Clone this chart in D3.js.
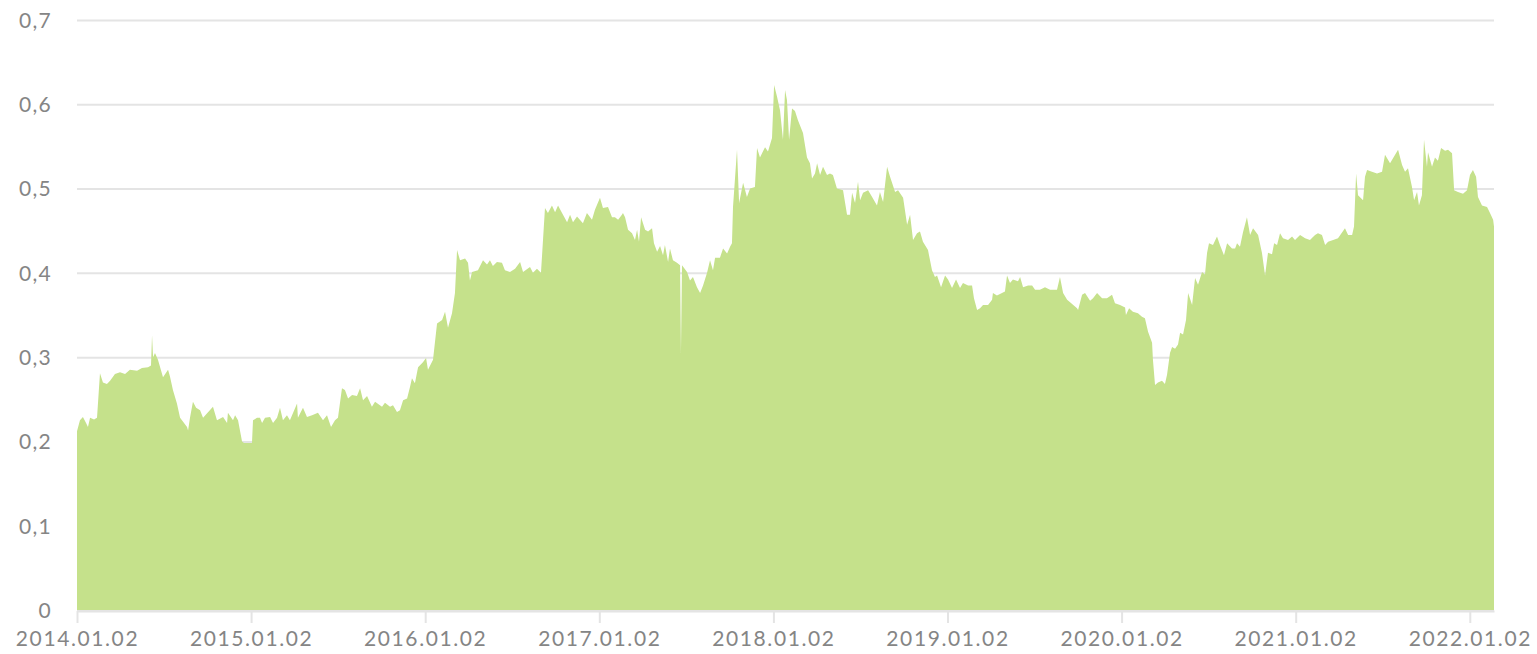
<!DOCTYPE html>
<html>
<head>
<meta charset="utf-8">
<script src="https://cdn.jsdelivr.net/npm/d3@7"></script>
<style>
  body { margin: 0; background: #fff; }
  .tick-label { font-family: Lato, 'Noto Sans', sans-serif; font-weight: 400; fill: #858585; }
</style>
</head>
<body>
<div id="graphics"></div>
<script>
// positions on the time axis as decimal years (2014.0 = 2014.01.02)
const yearPos = [
  2014.000, 2014.017, 2014.034, 2014.052, 2014.063, 2014.075, 2014.098, 2014.115, 2014.132, 2014.149,
  2014.172, 2014.190, 2014.218, 2014.247, 2014.276, 2014.304, 2014.345, 2014.373, 2014.408, 2014.425,
  2014.431, 2014.437, 2014.448, 2014.465, 2014.494, 2014.523, 2014.534, 2014.551, 2014.574, 2014.592,
  2014.632, 2014.638, 2014.649, 2014.666, 2014.684, 2014.707, 2014.724, 2014.781, 2014.804, 2014.839,
  2014.862, 2014.867, 2014.896, 2014.908, 2014.925, 2014.948, 2014.959, 2015.005,
  2015.011, 2015.034, 2015.051, 2015.063, 2015.080, 2015.109, 2015.126, 2015.149, 2015.166, 2015.183,
  2015.206, 2015.223, 2015.264, 2015.269, 2015.298, 2015.321, 2015.350, 2015.384, 2015.413, 2015.436,
  2015.459, 2015.482, 2015.499, 2015.522, 2015.539, 2015.557, 2015.580, 2015.608, 2015.626, 2015.643,
  2015.666, 2015.694, 2015.712, 2015.752, 2015.769, 2015.798, 2015.815, 2015.838, 2015.855, 2015.873,
  2015.896, 2015.913, 2015.924, 2015.941, 2015.959, 2015.987, 2016.005, 2016.016, 2016.045,
  2016.068, 2016.097, 2016.114, 2016.131, 2016.154, 2016.171, 2016.183, 2016.200, 2016.229, 2016.246,
  2016.257, 2016.269, 2016.303, 2016.332, 2016.355, 2016.372, 2016.389, 2016.412, 2016.441, 2016.458,
  2016.487, 2016.516, 2016.545, 2016.562, 2016.602, 2016.619, 2016.642, 2016.665, 2016.688, 2016.705,
  2016.728, 2016.746, 2016.763, 2016.786, 2016.815, 2016.832, 2016.849, 2016.872, 2016.906, 2016.929,
  2016.958, 2016.975,
  2017.004, 2017.021, 2017.050, 2017.073, 2017.090, 2017.108, 2017.130, 2017.136, 2017.148, 2017.165,
  2017.188, 2017.205, 2017.217, 2017.228, 2017.240, 2017.263, 2017.280, 2017.303, 2017.314, 2017.332,
  2017.349, 2017.366, 2017.377, 2017.395, 2017.406, 2017.423, 2017.446, 2017.464, 2017.469, 2017.475,
  2017.504, 2017.521, 2017.538, 2017.561, 2017.579, 2017.596, 2017.619, 2017.636, 2017.653, 2017.665,
  2017.693, 2017.711, 2017.734, 2017.751, 2017.762,
  2017.768, 2017.791, 2017.803, 2017.826, 2017.848, 2017.866, 2017.894, 2017.906, 2017.923, 2017.952,
  2017.969, 2017.992, 2018.004, 2018.021, 2018.038, 2018.055, 2018.067, 2018.078, 2018.090, 2018.107,
  2018.124, 2018.141, 2018.170, 2018.193, 2018.210, 2018.222, 2018.239, 2018.251, 2018.268, 2018.285,
  2018.308, 2018.325, 2018.342, 2018.365, 2018.400, 2018.423, 2018.440, 2018.452, 2018.469, 2018.486,
  2018.498, 2018.515, 2018.544, 2018.567, 2018.595, 2018.612, 2018.630, 2018.653, 2018.670, 2018.699,
  2018.716, 2018.745, 2018.768, 2018.785, 2018.802, 2018.825, 2018.842, 2018.859, 2018.888, 2018.911,
  2018.928, 2018.940, 2018.963, 2018.986,
  2019.003, 2019.026, 2019.049, 2019.072, 2019.089, 2019.118, 2019.141, 2019.152, 2019.170, 2019.187,
  2019.204, 2019.233, 2019.256, 2019.261, 2019.284, 2019.313, 2019.330, 2019.342, 2019.359, 2019.376,
  2019.405, 2019.417, 2019.434, 2019.463, 2019.486, 2019.503, 2019.531, 2019.560, 2019.589, 2019.629,
  2019.646, 2019.664, 2019.687, 2019.704, 2019.744, 2019.750, 2019.773, 2019.790, 2019.819, 2019.836,
  2019.859, 2019.888, 2019.916, 2019.945, 2019.962, 2019.991,
  2020.020, 2020.025, 2020.043, 2020.065, 2020.094, 2020.117, 2020.134, 2020.152, 2020.175, 2020.180,
  2020.192, 2020.209, 2020.232, 2020.249, 2020.261, 2020.278, 2020.290, 2020.307, 2020.324, 2020.336,
  2020.353, 2020.370, 2020.382, 2020.405, 2020.422, 2020.439, 2020.462, 2020.479, 2020.491, 2020.502,
  2020.525, 2020.548, 2020.565, 2020.588, 2020.606, 2020.634, 2020.652, 2020.663, 2020.680, 2020.697,
  2020.720, 2020.738, 2020.755, 2020.784, 2020.806, 2020.824, 2020.841, 2020.864, 2020.876, 2020.893,
  2020.910, 2020.927, 2020.956, 2020.979, 2020.996,
  2021.025, 2021.054, 2021.082, 2021.111, 2021.128, 2021.151, 2021.169, 2021.186, 2021.215, 2021.243,
  2021.283, 2021.301, 2021.324, 2021.335, 2021.347, 2021.358, 2021.387, 2021.398, 2021.410, 2021.438,
  2021.467, 2021.496, 2021.513, 2021.542, 2021.559, 2021.588, 2021.611, 2021.628, 2021.645, 2021.668,
  2021.680, 2021.697, 2021.708, 2021.725, 2021.737, 2021.754, 2021.760, 2021.783, 2021.800, 2021.817,
  2021.835, 2021.858, 2021.875, 2021.898, 2021.910, 2021.932, 2021.961, 2021.984,
  2022.001, 2022.018, 2022.036, 2022.047, 2022.070, 2022.099, 2022.116, 2022.134, 2022.139
];

const values = [
  0.212, 0.225, 0.229, 0.222, 0.217, 0.228, 0.226, 0.228, 0.281, 0.270,
  0.268, 0.272, 0.280, 0.282, 0.280, 0.285, 0.284, 0.287, 0.288, 0.290,
  0.326, 0.300, 0.305, 0.297, 0.276, 0.285, 0.277, 0.261, 0.245, 0.228,
  0.217, 0.213, 0.228, 0.247, 0.240, 0.237, 0.228, 0.241, 0.225, 0.229,
  0.222, 0.234, 0.225, 0.231, 0.225, 0.200, 0.198, 0.198,
  0.225, 0.228, 0.228, 0.222, 0.228, 0.229, 0.222, 0.228, 0.240, 0.225,
  0.231, 0.225, 0.245, 0.228, 0.240, 0.229, 0.231, 0.234, 0.225, 0.231,
  0.217, 0.225, 0.228, 0.263, 0.261, 0.251, 0.255, 0.254, 0.263, 0.249,
  0.254, 0.241, 0.247, 0.241, 0.246, 0.241, 0.243, 0.235, 0.237, 0.249,
  0.251, 0.265, 0.275, 0.269, 0.288, 0.294, 0.299, 0.285, 0.297,
  0.340, 0.344, 0.354, 0.335, 0.352, 0.376, 0.427, 0.415, 0.417, 0.412,
  0.391, 0.401, 0.403, 0.415, 0.410, 0.415, 0.408, 0.413, 0.412, 0.403,
  0.401, 0.405, 0.413, 0.401, 0.407, 0.400, 0.405, 0.400, 0.477, 0.471,
  0.480, 0.472, 0.480, 0.471, 0.460, 0.469, 0.460, 0.467, 0.459, 0.471,
  0.463, 0.475,
  0.489, 0.477, 0.478, 0.466, 0.466, 0.463, 0.469, 0.471, 0.466, 0.451,
  0.447, 0.439, 0.451, 0.437, 0.466, 0.451, 0.449, 0.453, 0.435, 0.425,
  0.432, 0.421, 0.433, 0.413, 0.429, 0.415, 0.412, 0.409, 0.305, 0.409,
  0.401, 0.391, 0.395, 0.383, 0.376, 0.385, 0.400, 0.415, 0.403, 0.418,
  0.418, 0.429, 0.423, 0.431, 0.435,
  0.478, 0.546, 0.483, 0.507, 0.490, 0.500, 0.502, 0.548, 0.537, 0.549,
  0.544, 0.560, 0.623, 0.609, 0.593, 0.558, 0.617, 0.605, 0.558, 0.595,
  0.592, 0.581, 0.566, 0.537, 0.530, 0.512, 0.518, 0.530, 0.516, 0.526,
  0.516, 0.518, 0.516, 0.500, 0.498, 0.469, 0.469, 0.495, 0.483, 0.508,
  0.486, 0.495, 0.498, 0.490, 0.480, 0.496, 0.484, 0.526, 0.514, 0.496,
  0.498, 0.489, 0.457, 0.469, 0.439, 0.447, 0.449, 0.437, 0.427, 0.403,
  0.395, 0.397, 0.383, 0.397,
  0.392, 0.382, 0.392, 0.382, 0.388, 0.385, 0.385, 0.370, 0.356, 0.358,
  0.362, 0.362, 0.368, 0.376, 0.373, 0.376, 0.378, 0.397, 0.388, 0.392,
  0.390, 0.395, 0.383, 0.385, 0.385, 0.380, 0.380, 0.383, 0.380, 0.380,
  0.395, 0.376, 0.368, 0.365, 0.358, 0.356, 0.374, 0.376, 0.367, 0.370,
  0.376, 0.370, 0.370, 0.374, 0.364, 0.362,
  0.359, 0.350, 0.358, 0.354, 0.352, 0.348, 0.346, 0.330, 0.317, 0.297,
  0.267, 0.270, 0.272, 0.268, 0.279, 0.305, 0.312, 0.310, 0.315, 0.329,
  0.327, 0.344, 0.376, 0.362, 0.394, 0.386, 0.401, 0.398, 0.424, 0.435,
  0.433, 0.443, 0.433, 0.421, 0.435, 0.429, 0.429, 0.435, 0.431, 0.448,
  0.466, 0.445, 0.453, 0.445, 0.424, 0.397, 0.424, 0.422, 0.435, 0.433,
  0.447, 0.441, 0.439, 0.443, 0.439,
  0.445, 0.441, 0.439, 0.445, 0.447, 0.445, 0.433, 0.437, 0.439, 0.441,
  0.453, 0.445, 0.445, 0.455, 0.518, 0.492, 0.486, 0.514, 0.522, 0.520,
  0.518, 0.520, 0.540, 0.530, 0.536, 0.546, 0.528, 0.520, 0.524, 0.502,
  0.486, 0.496, 0.480, 0.492, 0.558, 0.526, 0.543, 0.526, 0.537, 0.533,
  0.548, 0.545, 0.546, 0.542, 0.498, 0.496, 0.494, 0.498,
  0.516, 0.522, 0.514, 0.490, 0.480, 0.478, 0.471, 0.463, 0.455
];

const yTicks = [0, 0.1, 0.2, 0.3, 0.4, 0.5, 0.6, 0.7];
const xTicks = [2014, 2015, 2016, 2017, 2018, 2019, 2020, 2021, 2022];

const margin = { top: 20, left: 77, right: 43, bottom: 44 };
const totalWidth = 1537;
const totalHeight = 654;
const width = totalWidth - margin.left - margin.right;
const height = totalHeight - margin.top - margin.bottom;

const svg = d3
  .select('#graphics')
  .append('svg')
  .attr('width', totalWidth)
  .attr('height', totalHeight)
  .append('g')
  .attr('transform', 'translate(' + margin.left + ',' + margin.top + ')');

const data = yearPos.map((t, i) => ({ t: t, v: values[i] }));

// Scales
const xPositionScale = d3.scaleLinear().domain([2014, d3.max(yearPos)]).range([0, width]);
const yPositionScale = d3.scaleLinear().domain([0, 0.7]).range([height, 0]);

// gridlines + y labels
const yOptions = d3
  .axisLeft(yPositionScale)
  .tickValues(yTicks)
  .tickSizeInner(-width)
  .tickSizeOuter(0)
  .tickPadding(25)
  .tickFormat((d) => (d === 0 ? '0' : d3.format('.1f')(d).replace('.', ',')));

const yAxis = svg.append('g').attr('class', 'axis y-axis').call(yOptions);
yAxis.select('.domain').remove();
yAxis.selectAll('line').attr('stroke', '#e4e4e4').attr('stroke-width', 2);
yAxis
  .selectAll('text')
  .attr('class', 'tick-label')
  .attr('font-size', 21)
  .attr('dy', '0.35em')
  .style('letter-spacing', '1.3px');

// area
const area = d3
  .area()
  .x((d) => xPositionScale(d.t))
  .y0(yPositionScale(0))
  .y1((d) => yPositionScale(d.v));

svg.append('path').datum(data).attr('fill', '#c5e18b').attr('d', area);

// x axis
const xOptions = d3
  .axisBottom(xPositionScale)
  .tickValues(xTicks)
  .tickSizeInner(12)
  .tickSizeOuter(0)
  .tickPadding(8)
  .tickFormat((d) => d + '.01.02');

const xAxis = svg
  .append('g')
  .attr('class', 'axis x-axis')
  .attr('transform', 'translate(0,' + (height + 1) + ')')
  .call(xOptions);
xAxis.select('.domain').attr('stroke', '#e4e4e4').attr('stroke-width', 2);
xAxis.selectAll('line').attr('stroke', '#e4e4e4').attr('stroke-width', 2);
xAxis
  .selectAll('text')
  .attr('class', 'tick-label')
  .attr('font-size', 21)
  .style('letter-spacing', '1.6px');
</script>
</body>
</html>
